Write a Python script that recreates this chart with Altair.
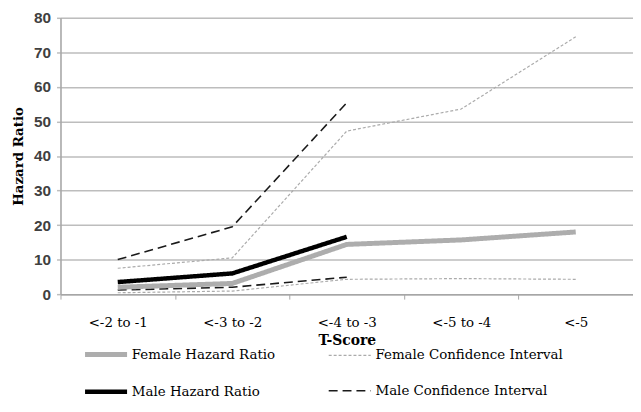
import json
import altair as alt
import pandas as pd

categories = ["<-2 to -1", "<-3 to -2", "<-4 to -3", "<-5 to -4", "<-5"]
female_hr = [2.0, 3.1, 14.4, 15.7, 18.0]
female_ci_upper = [7.5, 10.5, 47.2, 53.6, 74.5]
female_ci_lower = [0.4, 0.9, 4.3, 4.5, 4.3]
male_hr = [3.5, 6.0, 16.6]
male_ci_upper = [10.0, 19.5, 55.4]
male_ci_lower = [1.2, 2.0, 4.9]

series_names = ["Female Hazard Ratio", "Female Confidence Interval",
                "Male Hazard Ratio", "Male Confidence Interval"]

rows = []
def add(series, line_id, values):
    for i, v in enumerate(values):
        rows.append({"series": series, "line": line_id, "pos": i + 0.5,
                     "cat": categories[i], "value": v})

add(series_names[1], "fci_u", female_ci_upper)
add(series_names[1], "fci_l", female_ci_lower)
add(series_names[3], "mci_u", male_ci_upper)
add(series_names[3], "mci_l", male_ci_lower)
add(series_names[0], "fhr", female_hr)
add(series_names[2], "mhr", male_hr)
df = pd.DataFrame(rows)

serif = "DejaVu Serif"
label_expr = ("datum.value % 1 === 0.5 ? " + json.dumps(categories) +
              "[floor(datum.value)] : ''")

x_enc = alt.X("pos:Q",
              scale=alt.Scale(domain=[0, len(categories)], nice=False, zero=True),
              axis=alt.Axis(values=[i * 0.5 for i in range(2 * len(categories) + 1)],
                            labelExpr=label_expr, grid=False, title="T-Score",
                            tickSize=5,
                            tickColor={"condition": {"test": "datum.value % 1 === 0",
                                                     "value": "#a6a6a6"},
                                       "value": "transparent"},
                            domainColor="#a6a6a6", domainWidth=1.5,
                            labelFont=serif, labelFontSize=13.5, labelColor="#000",
                            labelPadding=17, labelFlush=False,
                            titleFont=serif, titleFontSize=14, titleFontWeight="bold",
                            titlePadding=4, titleColor="#000"))
y_enc = alt.Y("value:Q",
              scale=alt.Scale(domain=[0, 80], nice=False),
              axis=alt.Axis(values=list(range(0, 81, 10)), title="Hazard Ratio",
                            grid=True, gridColor="#bdbdbd", gridWidth=1.5,
                            tickSize=4, tickColor="#bdbdbd", tickWidth=1.5,
                            domainColor="#a6a6a6", domainWidth=1.5,
                            labelFont="Liberation Sans", labelFontSize=15.5,
                            labelFontWeight="bold", labelColor="#404040",
                            labelPadding=6,
                            titleFont=serif, titleFontSize=13.5, titleFontWeight="bold",
                            titleColor="#000", titlePadding=8))

legend = alt.Legend(orient="none", legendX=22, legendY=316, columns=2,
                    direction="horizontal", title=None, symbolType="stroke",
                    symbolSize=1800, columnPadding=50, rowPadding=4,
                    labelFont=serif, labelFontSize=13.5, labelColor="#000",
                    labelLimit=400, labelOffset=2)

color = alt.Color("series:N", scale=alt.Scale(domain=series_names,
                  range=["#adadad", "#ababab", "#000000", "#1a1a1a"]), legend=legend)
dash = alt.StrokeDash("series:N", scale=alt.Scale(domain=series_names,
                      range=[[1, 0], [3, 2], [1, 0], [9, 5]]), legend=legend)
width = alt.StrokeWidth("series:N", scale=alt.Scale(type="ordinal", domain=series_names,
                        range=[5, 1.2, 4.5, 1.6]), legend=legend)

base = alt.Chart(df).encode(x=x_enc, y=y_enc, color=color, strokeDash=dash,
                            strokeWidth=width, detail="line:N")
ci = base.mark_line().transform_filter("indexof(datum.line, 'ci') >= 0")
hr = base.mark_line().transform_filter("indexof(datum.line, 'hr') >= 0")

chart = alt.layer(ci, hr).properties(
    width=578, height=279,
    autosize=alt.AutoSizeParams(type="none"),
    padding={"left": 53, "top": 8, "right": 0, "bottom": 109},
).configure_view(stroke=None).configure(background="white")

chart.save("out.html", embed_options={"renderer": "svg", "actions": False})
